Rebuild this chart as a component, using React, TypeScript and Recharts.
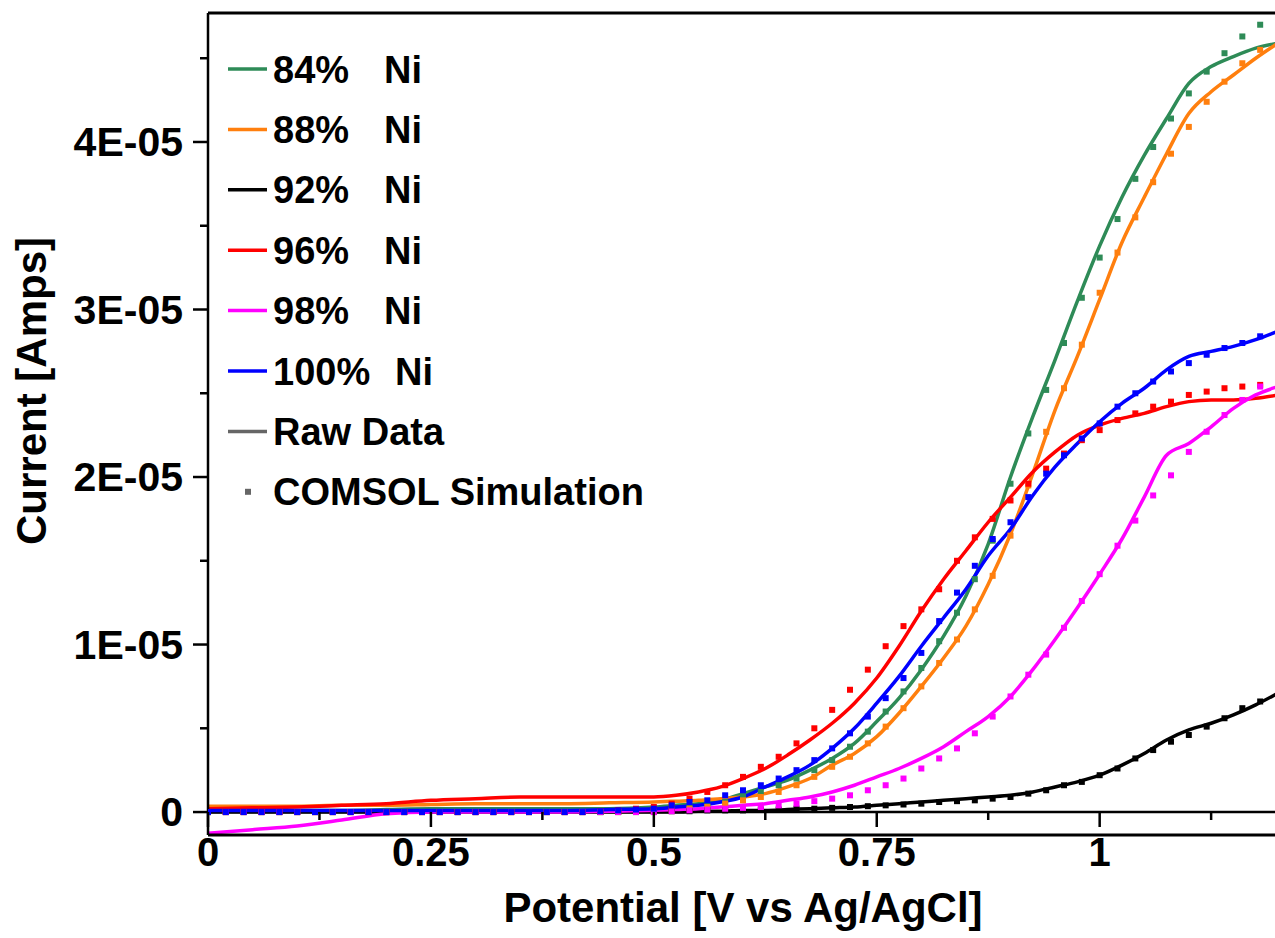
import React from 'react';
import { ComposedChart, Line, Scatter, XAxis, YAxis, ReferenceLine, Legend } from 'recharts';

const FONT = '"Liberation Sans", Arial, Helvetica, sans-serif';

// Series (Ni content) and colours
const seriesNames = ['84%', '88%', '92%', '96%', '98%', '100%'];
const seriesColors = ['#2e8b57', '#ff7f0e', '#000000', '#ff0000', '#ff00ff', '#0000ff'];

// Axis ticks (current in units of 1E-05 A)
const xTicks = [0, 0.125, 0.25, 0.375, 0.5, 0.625, 0.75, 0.875, 1, 1.125];
const xMajor = [0, 0.25, 0.5, 0.75, 1];
const yTicks = [0, 0.5, 1, 1.5, 2, 2.5, 3, 3.5, 4, 4.5];
const X_DOMAIN = [0, 1.2];
const Y_DOMAIN = [-0.137, 4.77];

// Raw data potentials [V]
const rawV = [0, 0.05, 0.1, 0.15, 0.2, 0.25, 0.3, 0.35, 0.4, 0.45, 0.5, 0.525, 0.55, 0.575, 0.6, 0.625, 0.65, 0.675, 0.7, 0.725, 0.75, 0.775, 0.8, 0.825, 0.85, 0.875, 0.9, 0.925, 0.95, 0.975, 1.0, 1.025, 1.05, 1.075, 1.1, 1.125, 1.15, 1.175, 1.2];

// Raw currents [1E-05 A]
const raw84 = [0.01, 0.01, 0.01, 0.01, 0.015, 0.02, 0.02, 0.02, 0.02, 0.02, 0.03, 0.04, 0.05, 0.07, 0.11, 0.15, 0.19, 0.25, 0.32, 0.41, 0.54, 0.68, 0.85, 1.05, 1.29, 1.6, 2.0, 2.36, 2.7, 3.05, 3.38, 3.67, 3.92, 4.14, 4.35, 4.45, 4.51, 4.56, 4.59];
const raw88 = [0.035, 0.035, 0.035, 0.04, 0.04, 0.045, 0.05, 0.05, 0.05, 0.055, 0.06, 0.065, 0.07, 0.08, 0.09, 0.11, 0.15, 0.2, 0.28, 0.35, 0.45, 0.59, 0.75, 0.92, 1.11, 1.36, 1.66, 2.02, 2.4, 2.72, 3.06, 3.4, 3.67, 3.93, 4.17, 4.3, 4.4, 4.5, 4.59];
const raw92 = [0, 0, 0, 0, 0, 0, 0, 0, 0, 0, 0, 0.0, 0.005, 0.005, 0.01, 0.01, 0.015, 0.02, 0.025, 0.03, 0.04, 0.05, 0.06, 0.07, 0.08, 0.09, 0.1, 0.12, 0.15, 0.18, 0.22, 0.28, 0.35, 0.43, 0.49, 0.53, 0.58, 0.64, 0.71];
const raw96 = [0.02, 0.025, 0.03, 0.04, 0.05, 0.07, 0.08, 0.09, 0.09, 0.09, 0.09, 0.1, 0.12, 0.15, 0.2, 0.26, 0.34, 0.43, 0.53, 0.65, 0.8, 0.99, 1.2, 1.39, 1.56, 1.73, 1.88, 2.03, 2.15, 2.25, 2.31, 2.35, 2.38, 2.42, 2.45, 2.46, 2.46, 2.47, 2.49];
const raw98 = [-0.127, -0.105, -0.083, -0.048, -0.01, 0.0, 0.0, 0.0, 0.0, 0.005, 0.01, 0.015, 0.02, 0.03, 0.04, 0.05, 0.07, 0.09, 0.12, 0.16, 0.21, 0.26, 0.32, 0.39, 0.48, 0.57, 0.69, 0.85, 1.03, 1.22, 1.42, 1.63, 1.88, 2.13, 2.2, 2.3, 2.41, 2.49, 2.54];
const raw100 = [0.01, 0.01, 0.01, 0.01, 0.01, 0.01, 0.01, 0.01, 0.01, 0.015, 0.02, 0.03, 0.04, 0.06, 0.09, 0.15, 0.21, 0.28, 0.38, 0.5, 0.65, 0.81, 0.99, 1.16, 1.33, 1.53, 1.69, 1.89, 2.06, 2.2, 2.33, 2.44, 2.53, 2.64, 2.72, 2.75, 2.78, 2.82, 2.87];

// COMSOL simulation potentials [V]
const simV = [0, 0.02, 0.04, 0.06, 0.08, 0.1, 0.12, 0.14, 0.16, 0.18, 0.2, 0.22, 0.24, 0.26, 0.28, 0.3, 0.32, 0.34, 0.36, 0.38, 0.4, 0.42, 0.44, 0.46, 0.48, 0.5,
  0.52, 0.54, 0.56, 0.58, 0.6, 0.62, 0.64, 0.66, 0.68, 0.7, 0.72, 0.74, 0.76, 0.78, 0.8, 0.82, 0.84, 0.86, 0.88, 0.9, 0.92, 0.94, 0.96, 0.98, 1.0, 1.02, 1.04, 1.06, 1.08, 1.1, 1.12, 1.14, 1.16, 1.18, 1.2];

// COMSOL simulation currents [1E-05 A]
const sim84 = [0, 0, 0, 0, 0, 0, 0, 0, 0, 0, 0, 0, 0, 0, 0, 0, 0, 0, 0, 0, 0, 0, 0, 0.005, 0.005, 0.01,
  0.02, 0.03, 0.04, 0.06, 0.09, 0.12, 0.16, 0.2, 0.25, 0.31, 0.39, 0.48, 0.6, 0.72, 0.86, 1.02, 1.19, 1.39, 1.62, 1.96, 2.26, 2.52, 2.8, 3.07, 3.31, 3.54, 3.78, 3.97, 4.14, 4.29, 4.42, 4.53, 4.63, 4.7, 4.74];
const sim88 = [0, 0, 0, 0, 0, 0, 0, 0, 0, 0, 0, 0, 0, 0, 0, 0, 0, 0, 0, 0, 0, 0, 0, 0, 0.005, 0.005,
  0.01, 0.02, 0.03, 0.05, 0.07, 0.09, 0.12, 0.16, 0.21, 0.27, 0.33, 0.41, 0.51, 0.62, 0.75, 0.89, 1.03, 1.21, 1.41, 1.65, 1.95, 2.27, 2.53, 2.79, 3.1, 3.34, 3.55, 3.76, 3.93, 4.09, 4.24, 4.36, 4.47, 4.55, 4.6];
const sim92 = [0, 0, 0, 0, 0, 0, 0, 0, 0, 0, 0, 0, 0, 0, 0, 0, 0, 0, 0, 0, 0, 0, 0, 0, 0, 0,
  0.005, 0.005, 0.01, 0.01, 0.01, 0.015, 0.015, 0.02, 0.02, 0.025, 0.03, 0.035, 0.04, 0.045, 0.05, 0.06, 0.065, 0.07, 0.08, 0.09, 0.11, 0.13, 0.16, 0.18, 0.22, 0.26, 0.32, 0.37, 0.42, 0.46, 0.51, 0.56, 0.62, 0.66, 0.7];
const sim96 = [0, 0, 0, 0, 0, 0, 0, 0, 0, 0, 0, 0, 0, 0, 0, 0, 0, 0, 0, 0, 0, 0, 0.005, 0.01, 0.02, 0.03,
  0.05, 0.08, 0.12, 0.16, 0.21, 0.27, 0.33, 0.41, 0.5, 0.61, 0.73, 0.85, 0.99, 1.11, 1.21, 1.33, 1.5, 1.64, 1.75, 1.86, 1.96, 2.05, 2.14, 2.22, 2.28, 2.34, 2.38, 2.42, 2.45, 2.49, 2.51, 2.53, 2.54, 2.55, 2.56];
const sim98 = [0, 0, 0, 0, 0, 0, 0, 0, 0, 0, 0, 0, 0, 0, 0, 0, 0, 0, 0, 0, 0, 0, 0, 0, 0, 0,
  0.005, 0.01, 0.015, 0.02, 0.025, 0.03, 0.04, 0.05, 0.065, 0.08, 0.1, 0.13, 0.16, 0.2, 0.26, 0.32, 0.38, 0.47, 0.57, 0.69, 0.82, 0.94, 1.1, 1.26, 1.42, 1.59, 1.74, 1.89, 2.01, 2.15, 2.27, 2.37, 2.46, 2.54, 2.58];
const sim100 = [0, 0, 0, 0, 0, 0, 0, 0, 0, 0, 0, 0, 0, 0, 0, 0, 0, 0, 0, 0, 0, 0, 0.005, 0.01, 0.015, 0.02,
  0.04, 0.06, 0.07, 0.1, 0.13, 0.16, 0.2, 0.25, 0.31, 0.38, 0.47, 0.57, 0.68, 0.8, 0.95, 1.14, 1.31, 1.47, 1.63, 1.73, 1.88, 2.02, 2.13, 2.23, 2.32, 2.42, 2.5, 2.57, 2.63, 2.68, 2.73, 2.77, 2.8, 2.84, 2.87];

// Legend entries
const legendNi = 'Ni';
const legendRaw = 'Raw Data';
const legendSim = 'COMSOL Simulation';

const rawSeries = [raw84, raw88, raw92, raw96, raw98, raw100];
const simSeries = [sim84, sim88, sim92, sim96, sim98, sim100];

const rawData = rawSeries.map((arr) => rawV.map((v, k) => ({ v, i: arr[k] })));
const simData = simSeries.map((arr) => simV.map((v, k) => ({ v, i: arr[k] })));

const fmtX = (v: number) => String(v);
const fmtY = (v: number) => (v === 0 ? '0' : `${v}E-05`);

const XTick = (props: any) => {
  const { x, y, payload } = props;
  const major = xMajor.includes(payload.value);
  return (
    <g>
      <line x1={x} x2={x} y1={y - 23} y2={major ? y - 8 : y - 15} stroke="#000" strokeWidth={2.5} />
      {major && (
        <text x={x} y={y + 31} textAnchor="middle" fontFamily={FONT} fontWeight="bold" fontSize={40} fill="#000">
          {fmtX(payload.value)}
        </text>
      )}
    </g>
  );
};

const YTick = (props: any) => {
  const { x, y, payload } = props;
  const major = Number.isInteger(payload.value);
  return (
    <g>
      <line x1={major ? x - 15 : x - 8} x2={x} y1={y} y2={y} stroke="#000" strokeWidth={2.5} />
      {major && (
        <text x={x - 25} y={y + 14} textAnchor="end" fontFamily={FONT} fontWeight="bold" fontSize={41} fill="#000">
          {fmtY(payload.value)}
        </text>
      )}
    </g>
  );
};

const XTitle = (props: any) => {
  const vb = props.viewBox || { x: 208, y: 835, width: 1070, height: 103 };
  return (
    <text x={vb.x + vb.width / 2} y={vb.y + 87} textAnchor="middle" fontFamily={FONT} fontWeight="bold" fontSize={42} fill="#000">
      Potential [V vs Ag/AgCl]
    </text>
  );
};

const YTitle = () => (
  <text transform="translate(46,391) rotate(-90)" x={0} y={0} textAnchor="middle" fontFamily={FONT} fontWeight="bold" fontSize={42} fill="#000">
    Current [Amps]
  </text>
);

const LEG_Y0 = 69;
const LEG_DY = 60.4;

const renderLegend = () => (
  <svg width={720} height={530} style={{ display: 'block', overflow: 'visible' }}>
    {seriesNames.map((n, k) => {
      const y = LEG_Y0 + k * LEG_DY;
      return (
        <g key={n}>
          <line x1={228} x2={267} y1={y} y2={y} stroke={seriesColors[k]} strokeWidth={3.5} />
          <text x={273} y={y + 13.5} fontFamily={FONT} fontWeight="bold" fontSize={38} fill="#000">{n}</text>
          <text x={n.length > 3 ? 395 : 384} y={y + 13.5} fontFamily={FONT} fontWeight="bold" fontSize={38} fill="#000">{legendNi}</text>
        </g>
      );
    })}
    <line x1={228} x2={267} y1={LEG_Y0 + 6 * LEG_DY} y2={LEG_Y0 + 6 * LEG_DY} stroke="#666" strokeWidth={3.5} />
    <text x={273} y={LEG_Y0 + 6 * LEG_DY + 13.5} fontFamily={FONT} fontWeight="bold" fontSize={38} fill="#000">{legendRaw}</text>
    <rect x={245} y={LEG_Y0 + 7 * LEG_DY - 3} width={6} height={6} fill="#666" />
    <text x={273} y={LEG_Y0 + 7 * LEG_DY + 13.5} fontFamily={FONT} fontWeight="bold" fontSize={38} fill="#000">{legendSim}</text>
  </svg>
);

const makeSquare = (color: string) => (props: any) => {
  const { cx, cy } = props;
  if (cx == null || cy == null) return <g />;
  return <rect x={cx - 3} y={cy - 3} width={6} height={6} fill={color} />;
};

export default function App() {
  return (
    <div style={{ position: 'fixed', left: 0, top: 0, width: 1275, height: 938, overflow: 'hidden', background: '#fff' }}>
      <ComposedChart width={1300} height={938} margin={{ top: 13, right: 22, bottom: 0, left: 0 }}>
        <XAxis
          dataKey="v"
          type="number"
          domain={X_DOMAIN}
          allowDataOverflow
          ticks={xTicks}
          interval={0}
          tick={<XTick />}
          tickLine={false}
          tickSize={0}
          tickMargin={0}
          height={103}
          axisLine={{ stroke: '#000', strokeWidth: 3 }}
          label={<XTitle />}
        />
        <YAxis
          dataKey="i"
          type="number"
          domain={Y_DOMAIN}
          allowDataOverflow
          ticks={yTicks}
          interval={0}
          tick={<YTick />}
          tickLine={false}
          tickSize={0}
          tickMargin={0}
          width={208}
          axisLine={{ stroke: '#000', strokeWidth: 2.5 }}
          label={<YTitle />}
        />
        <ReferenceLine y={Y_DOMAIN[1]} stroke="#000" strokeWidth={3} ifOverflow="visible" />
        <ReferenceLine y={0} stroke="#000" strokeWidth={2.5} />
        {simData.map((d, k) => (
          <Scatter
            key={'sim' + k}
            data={d}
            dataKey="i"
            fill={seriesColors[k]}
            shape={makeSquare(seriesColors[k])}
            isAnimationActive={false}
          />
        ))}
        {rawData.map((d, k) => (
          <Line
            key={'raw' + k}
            data={d}
            dataKey="i"
            type="monotone"
            stroke={seriesColors[k]}
            strokeWidth={3.5}
            dot={false}
            activeDot={false}
            isAnimationActive={false}
          />
        ))}
        <Legend
          layout="vertical"
          align="center"
          verticalAlign="middle"
          wrapperStyle={{ left: 0, top: 0, width: 720, height: 530 }}
          content={renderLegend}
        />
      </ComposedChart>
    </div>
  );
}
